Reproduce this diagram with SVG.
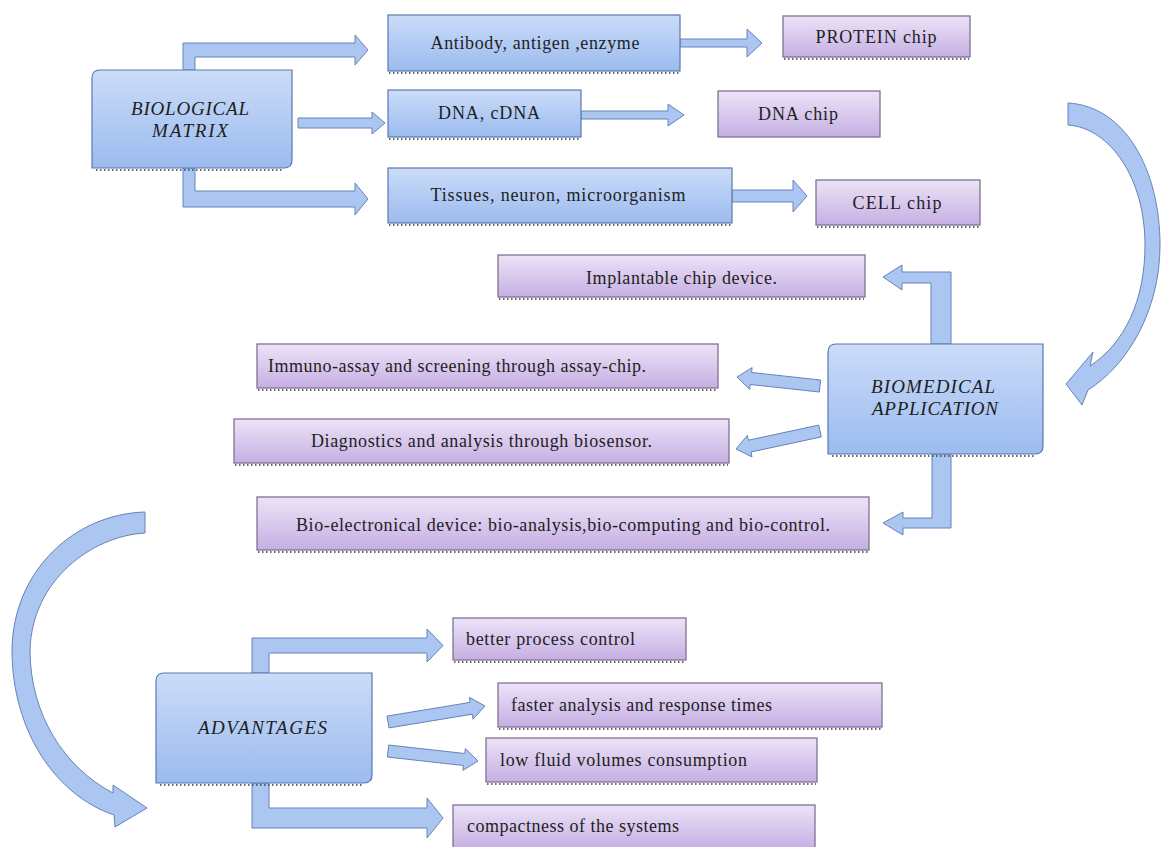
<svg xmlns="http://www.w3.org/2000/svg" width="1161" height="847" viewBox="0 0 1161 847">
<defs>
<linearGradient id="gBlue" x1="0" y1="0" x2="0" y2="1">
<stop offset="0" stop-color="#cbdcf8"/>
<stop offset="1" stop-color="#9bbbef"/>
</linearGradient>
<linearGradient id="gPurple" x1="0" y1="0" x2="0" y2="1">
<stop offset="0" stop-color="#ece3f7"/>
<stop offset="1" stop-color="#c6afe3"/>
</linearGradient>
<style>
.blue{fill:url(#gBlue);stroke:#5b78ad;stroke-width:1.2}
.purple{fill:url(#gPurple);stroke:#7e7393;stroke-width:1.3}
.arrow{fill:#abc6f1;stroke:#6683b8;stroke-width:1}
.sh{fill:none;stroke:#3a3a3a;stroke-width:1.4;stroke-dasharray:1.5 2.5}
.t{font-family:"Liberation Serif","Times New Roman",serif;font-size:18px;fill:#1e1e1e}
.ti{font-family:"Liberation Serif","Times New Roman",serif;font-size:19px;font-style:italic;fill:#1e1e1e}
.m{text-anchor:middle}
</style>
</defs>
<rect x="0" y="0" width="1161" height="847" fill="#ffffff"/>

<g id="connectors">
<!-- Biological matrix outputs -->
<polygon class="arrow" points="183,70 183,43 355,43 355,35 368,50 355,65 355,57 195,57 195,70"/>
<polygon class="arrow" points="298,118 372,118 372,112 385,123 372,134 372,128 298,128"/>
<polygon class="arrow" points="183,168 183,207 355,207 355,215 368,199 355,183 355,191 195,191 195,168"/>
<!-- to chips -->
<polygon class="arrow" points="680,39 747,39 747,29 762,43 747,57 747,47 680,47"/>
<polygon class="arrow" points="581,111 668,111 668,104 684,115 668,126 668,119 581,119"/>
<polygon class="arrow" points="732,190 793,190 793,180 807,196 793,212 793,202 732,202"/>
<!-- right curved arrow -->
<path class="arrow" d="M1068,103 C1125,106 1160,170 1160,245 C1160,310 1128,365 1088,390 L1082,405 L1066,384 L1093,352 L1090,366 C1125,343 1145,300 1145,245 C1145,178 1110,128 1068,125 Z"/>
<!-- biomedical outputs -->
<polygon class="arrow" points="931,344 931,283 902,283 902,290 883,277 902,265 902,272 951,272 951,344"/>
<polygon class="arrow" points="820.6,380 751.6,372.5 752.1,367.6 737,377 749.7,389.4 750.2,384.5 819.4,392"/>
<polygon class="arrow" points="818.7,425.1 748.4,440.2 747.4,435.3 736,449 752,456.9 751,452 821.3,436.9"/>
<polygon class="arrow" points="932,454 932,518 903,518 903,512 883,523 903,535 903,528 951,528 951,454"/>
<!-- left curved arrow -->
<path class="arrow" d="M145,512 L145,533 C92,536 32,580 30,650 C30,715 65,768 113,793 L113,785 L147,808 L115,827 L114,815 C55,795 12,730 12,650 C13,570 75,514 145,512 Z"/>
<!-- advantages outputs -->
<polygon class="arrow" points="252,673 252,638 427,638 427,629 443,645.5 427,662 427,653 269,653 269,673"/>
<polygon class="arrow" points="389,727.9 472.2,714.2 473,719.2 485,706 469.4,697.4 470.2,702.4 387,716.1"/>
<polygon class="arrow" points="387.3,757 463.4,765.5 462.9,770.4 478,761 465.3,748.6 464.8,753.5 388.7,745"/>
<polygon class="arrow" points="252,783 252,828 427,828 427,838 443,818 427,798 427,808 269,808 269,783"/>
</g>

<g id="biological-matrix">
<path class="blue" d="M100,70 H292 V160 Q292,168 284,168 H92 V78 Q92,70 100,70 Z"/>
<line class="sh" x1="96" y1="170" x2="284" y2="170"/>
<text class="ti m" x="190" y="115" textLength="118" lengthAdjust="spacing">BIOLOGICAL</text>
<text class="ti m" x="190" y="137" textLength="76" lengthAdjust="spacing">MATRIX</text>
</g>

<g id="antibody">
<rect class="blue" x="388" y="15" width="292" height="56"/>
<line class="sh" x1="389" y1="73" x2="679" y2="73"/>
<text class="t m" x="535" y="49" textLength="209" lengthAdjust="spacing">Antibody, antigen ,enzyme</text>
</g>

<g id="dna-cdna">
<rect class="blue" x="388" y="90" width="193" height="47"/>
<line class="sh" x1="389" y1="139" x2="580" y2="139"/>
<text class="t m" x="489" y="119" textLength="102" lengthAdjust="spacing">DNA, cDNA</text>
</g>

<g id="tissues">
<rect class="blue" x="388" y="168" width="344" height="55"/>
<line class="sh" x1="389" y1="225" x2="731" y2="225"/>
<text class="t m" x="558" y="201" textLength="255" lengthAdjust="spacing">Tissues, neuron, microorganism</text>
</g>

<g id="protein-chip">
<rect class="purple" x="783" y="16" width="187" height="41"/>
<line class="sh" x1="784" y1="59" x2="969" y2="59"/>
<text class="t m" x="876" y="43" textLength="121" lengthAdjust="spacing">PROTEIN chip</text>
</g>

<g id="dna-chip">
<rect class="purple" x="718" y="91" width="162" height="46"/>
<text class="t m" x="798" y="120" textLength="80" lengthAdjust="spacing">DNA chip</text>
</g>

<g id="cell-chip">
<rect class="purple" x="816" y="180" width="164" height="45"/>
<line class="sh" x1="817" y1="227" x2="979" y2="227"/>
<text class="t m" x="897" y="209" textLength="89" lengthAdjust="spacing">CELL chip</text>
</g>

<g id="implantable">
<rect class="purple" x="498" y="255" width="367" height="42"/>
<line class="sh" x1="499" y1="299" x2="864" y2="299"/>
<text class="t m" x="681.5" y="284" textLength="191" lengthAdjust="spacing">Implantable chip device.</text>
</g>

<g id="immuno-assay">
<rect class="purple" x="257" y="344" width="461" height="44"/>
<line class="sh" x1="258" y1="390" x2="717" y2="390"/>
<text class="t" x="268" y="372" textLength="378" lengthAdjust="spacing">Immuno-assay and screening through assay-chip.</text>
</g>

<g id="diagnostics">
<rect class="purple" x="234" y="419" width="495" height="44"/>
<line class="sh" x1="235" y1="465" x2="728" y2="465"/>
<text class="t m" x="481.5" y="447" textLength="341" lengthAdjust="spacing">Diagnostics and analysis through biosensor.</text>
</g>

<g id="biomedical-application">
<path class="blue" d="M836,344 H1043 V446 Q1043,454 1035,454 H828 V352 Q828,344 836,344 Z"/>
<line class="sh" x1="832" y1="456" x2="1035" y2="456"/>
<text class="ti m" x="933" y="393" textLength="124" lengthAdjust="spacing">BIOMEDICAL</text>
<text class="ti m" x="935" y="415" textLength="126" lengthAdjust="spacing">APPLICATION</text>
</g>

<g id="bio-electronical">
<rect class="purple" x="257" y="497" width="612" height="53"/>
<line class="sh" x1="258" y1="552" x2="868" y2="552"/>
<text class="t m" x="563" y="531" textLength="534" lengthAdjust="spacing">Bio-electronical device: bio-analysis,bio-computing and bio-control.</text>
</g>

<g id="advantages">
<path class="blue" d="M164,673 H372 V775 Q372,783 364,783 H156 V681 Q156,673 164,673 Z"/>
<line class="sh" x1="160" y1="785" x2="364" y2="785"/>
<text class="ti m" x="262.5" y="734" textLength="129" lengthAdjust="spacing">ADVANTAGES</text>
</g>

<g id="better-process-control">
<rect class="purple" x="453" y="618" width="233" height="42"/>
<line class="sh" x1="454" y1="662" x2="685" y2="662"/>
<text class="t" x="466" y="645" textLength="169" lengthAdjust="spacing">better process control</text>
</g>

<g id="faster-analysis">
<rect class="purple" x="498" y="683" width="384" height="44"/>
<line class="sh" x1="499" y1="729" x2="881" y2="729"/>
<text class="t" x="511" y="711" textLength="261" lengthAdjust="spacing">faster analysis and response times</text>
</g>

<g id="low-fluid">
<rect class="purple" x="486" y="738" width="331" height="44"/>
<line class="sh" x1="487" y1="784" x2="816" y2="784"/>
<text class="t" x="500" y="766" textLength="247" lengthAdjust="spacing">low fluid volumes consumption</text>
</g>

<g id="compactness">
<rect class="purple" x="453" y="805" width="362" height="44"/>
<text class="t" x="467" y="832" textLength="212" lengthAdjust="spacing">compactness of the systems</text>
</g>
</svg>
